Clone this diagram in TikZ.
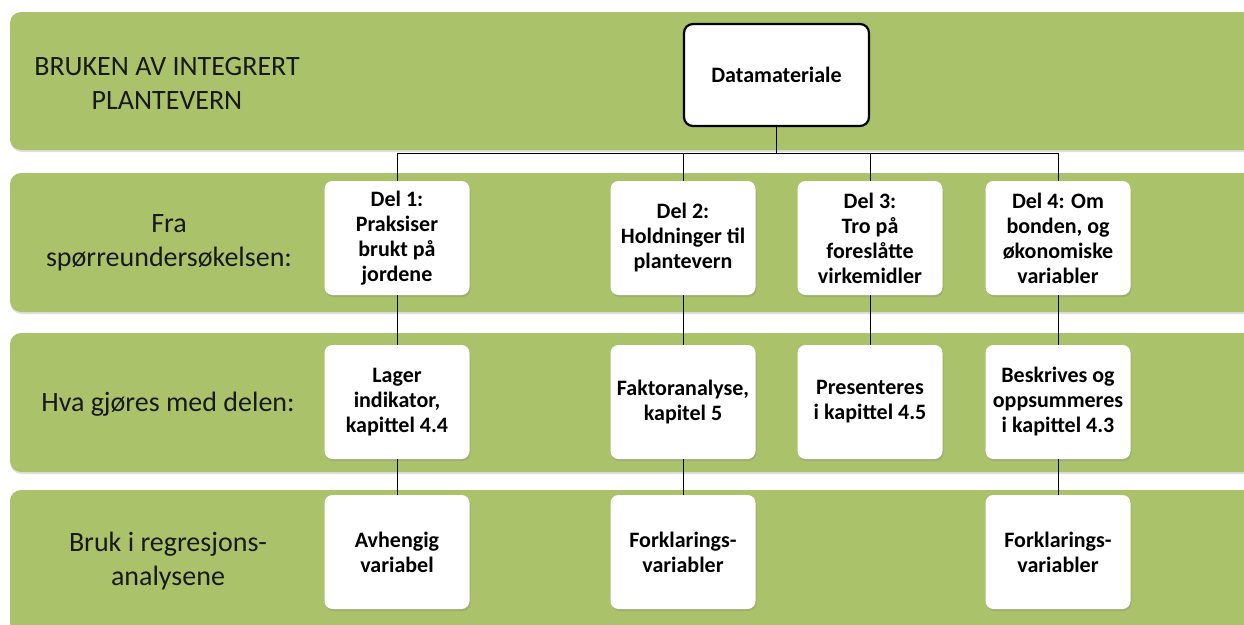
\documentclass[tikz,border=0pt]{standalone}
\usepackage{fontspec}
\setmainfont{Carlito}
\usetikzlibrary{shadows}
\definecolor{bandgreen}{RGB}{170,195,107}
\begin{document}
\begin{tikzpicture}[x=1pt,y=-1pt,
  bandbg/.style={fill=bandgreen, rounded corners=11pt,
    drop shadow={opacity=0.25, shadow xshift=0.5pt, shadow yshift=-2pt}},
  rowlabel/.style={align=center, font=\fontsize{28}{34}\selectfont, text=black!90},
  partbox/.style={fill=white, rounded corners=8pt, minimum width=145pt,
    minimum height=114pt, inner sep=0pt, align=center,
    font=\bfseries\fontsize{22}{25}\selectfont,
    drop shadow={opacity=0.3, shadow xshift=1pt, shadow yshift=-2pt}},
  topbox/.style={draw=black, line width=2.2pt, fill=white, rounded corners=9pt,
    minimum width=185pt, minimum height=102pt, inner sep=0pt,
    font=\bfseries\fontsize{22}{25}\selectfont},
  conn/.style={draw=black, line width=1pt}]
\useasboundingbox (0,0) rectangle (1244,624);
\clip (0,0) rectangle (1244,624);
% bands
\path[bandbg] (10,12) rectangle (1275,150);
\path[bandbg] (10,173) rectangle (1275,312);
\path[bandbg] (10,333) rectangle (1275,472);
\path[bandbg] (10,490) rectangle (1275,634);
% row labels
\node[rowlabel] (l0) at (167,83) {BRUKEN AV INTEGRERT\\PLANTEVERN};
\node[rowlabel] (l1) at (169,243) {Fra\\spørreundersøkelsen:};
\node[rowlabel] (l2) at (168,404) {Hva gjøres med delen:};
\node[rowlabel] (l3) at (168,561) {Bruk i regresjons-\\analysene};
% top box
\node[topbox] (dm) at (776.5,75) {Datamateriale};
% row 2
\node[partbox] (a1) at (397,238) {Del 1:\\Praksiser\\brukt på\\jordene};
\node[partbox] (a2) at (683,238) {Del 2:\\Holdninger til\\plantevern};
\node[partbox] (a3) at (870,238) {Del 3:\\Tro på\\foreslåtte\\virkemidler};
\node[partbox] (a4) at (1058,238) {Del 4: Om\\bonden, og\\økonomiske\\variabler};
% row 3
\node[partbox] (b1) at (397,402) {Lager\\indikator,\\kapittel 4.4};
\node[partbox] (b2) at (683,402) {Faktoranalyse,\\kapitel 5};
\node[partbox] (b3) at (870,402) {Presenteres\\i kapittel 4.5};
\node[partbox] (b4) at (1058,402) {Beskrives og\\oppsummeres\\i kapittel 4.3};
% row 4
\node[partbox] (c1) at (397,552) {Avhengig\\variabel};
\node[partbox] (c2) at (683,552) {Forklarings-\\variabler};
\node[partbox] (c4) at (1058,552) {Forklarings-\\variabler};
% connectors
\coordinate (bus) at (0,153);
\draw[conn] (dm.south) -- (dm.south |- bus);
\draw[conn] (a1.north) -- (a1.north |- bus) -- (a4.north |- bus) -- (a4.north);
\draw[conn] (a2.north) -- (a2.north |- bus);
\draw[conn] (a3.north) -- (a3.north |- bus);
\draw[conn] (a1.south) -- (b1.north);
\draw[conn] (a2.south) -- (b2.north);
\draw[conn] (a3.south) -- (b3.north);
\draw[conn] (a4.south) -- (b4.north);
\draw[conn] (b1.south) -- (c1.north);
\draw[conn] (b2.south) -- (c2.north);
\draw[conn] (b4.south) -- (c4.north);
\end{tikzpicture}
\end{document}
